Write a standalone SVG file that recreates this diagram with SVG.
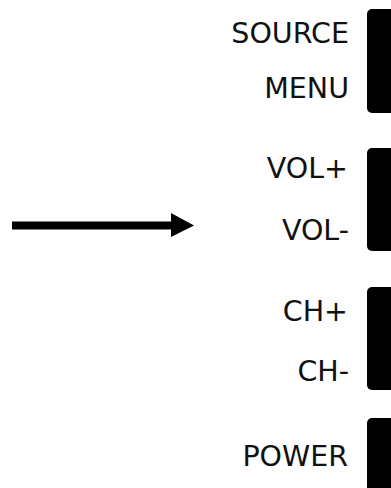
<svg xmlns="http://www.w3.org/2000/svg" width="391" height="488" viewBox="0 0 391 488">
<style>
.lbl{font-family:"DejaVu Sans","Liberation Sans",sans-serif;font-size:28.5px;fill:#111;text-anchor:end}
.btn{fill:#000}
</style>
<rect width="391" height="488" fill="#fff"/>
<g id="btn-source-menu"><rect class="btn" x="367" y="9" width="40" height="104" rx="5"/><text class="lbl" x="349" y="43">SOURCE</text><text class="lbl" x="349" y="98">MENU</text></g>
<g id="btn-vol"><rect class="btn" x="367" y="148" width="40" height="103" rx="5"/><text class="lbl" x="348" y="178">VOL+</text><text class="lbl" x="349" y="240">VOL-</text></g>
<g id="btn-ch"><rect class="btn" x="367" y="287" width="40" height="103" rx="5"/><text class="lbl" x="348" y="321">CH+</text><text class="lbl" x="349" y="381">CH-</text></g>
<g id="btn-power"><rect class="btn" x="367" y="418" width="40" height="90" rx="5"/><text class="lbl" x="348" y="466">POWER</text></g>
<g id="connectors"><line x1="12" y1="225.5" x2="173" y2="225.5" stroke="#000" stroke-width="8"/><polygon points="171,213 194,225.5 171,237" fill="#000"/></g>
</svg>
